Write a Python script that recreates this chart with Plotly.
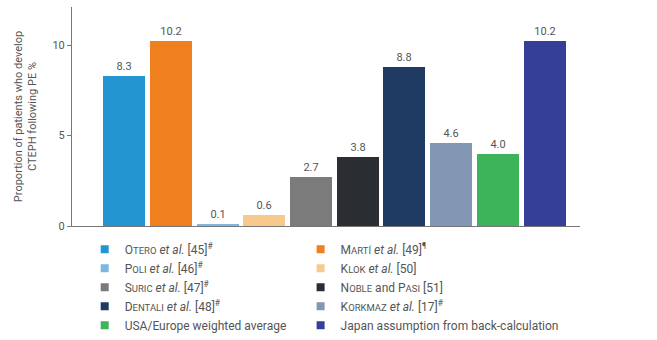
import plotly.graph_objects as go

# Studies / estimates and the proportion of PE patients developing CTEPH (%)
def sc(first, rest):
    """Render a name in small capitals."""
    return f"{first}<span style='font-size:9.5px'>{rest}</span>"

labels = [
    sc("O", "TERO") + " <i>et al.</i> [45]<sup>#</sup>",
    sc("M", "ARTÍ") + " <i>et al.</i> [49]<sup>¶</sup>",
    sc("P", "OLI") + " <i>et al.</i> [46]<sup>#</sup>",
    sc("K", "LOK") + " <i>et al.</i> [50]",
    sc("S", "URIC") + " <i>et al.</i> [47]<sup>#</sup>",
    sc("N", "OBLE") + " and " + sc("P", "ASI") + " [51]",
    sc("D", "ENTALI") + " <i>et al.</i> [48]<sup>#</sup>",
    sc("K", "ORKMAZ") + " <i>et al.</i> [17]<sup>#</sup>",
    "USA/Europe weighted average",
    "Japan assumption from back-calculation",
]
values = [8.3, 10.2, 0.1, 0.6, 2.7, 3.8, 8.8, 4.6, 4.0, 10.2]
colors = ["#2396d2", "#f07f1e", "#7fb7de", "#f8c98c", "#7b7b7b",
          "#2a2d31", "#1f3b63", "#8197b4", "#3db45a", "#363f97"]
y_ticks = [0, 5, 10]

TEXT = "#555555"
FONT = "Roboto"

fig = go.Figure()
positions = list(range(len(values)))
for i, (lab, v, c) in enumerate(zip(labels, values, colors)):
    fig.add_trace(go.Bar(
        x=[positions[i]], y=[v], width=0.9,
        marker=dict(color=c, line=dict(width=0)),
        text=[f"{v:.1f}"], textposition="outside",
        textfont=dict(size=11, color=TEXT, family=FONT),
        cliponaxis=False, showlegend=False, hoverinfo="skip",
    ))
# legend entries with small square swatches, split into two columns
for i, (lab, c) in enumerate(zip(labels, colors)):
    fig.add_trace(go.Scatter(
        x=[None], y=[None], mode="markers", name=lab,
        marker=dict(symbol="square", size=8, color=c),
        legend="legend" if i % 2 == 0 else "legend2",
    ))

legend_style = dict(orientation="v", xanchor="left", y=-0.04, yanchor="top",
                    font=dict(size=12, color=TEXT, family=FONT),
                    itemsizing="trace", tracegroupgap=0,
                    bgcolor="rgba(0,0,0,0)")

fig.update_layout(
    width=657, height=340,
    margin=dict(l=72, r=77, t=7, b=114, autoexpand=False),
    paper_bgcolor="white", plot_bgcolor="white",
    barmode="overlay",
    font=dict(family=FONT, color=TEXT, size=11),
    xaxis=dict(range=[-1.12, 9.76], showticklabels=False, ticks="",
               showgrid=False, zeroline=False, showline=True,
               linecolor="#777777", linewidth=1),
    yaxis=dict(range=[0, 12.1], tickvals=y_ticks, ticks="outside",
               ticklen=4, tickcolor="#777777", showgrid=False,
               zeroline=False, showline=True, linecolor="#777777",
               linewidth=1, tickfont=dict(size=11, color=TEXT),
               title=dict(text="Proportion of patients who develop<br>CTEPH following PE %",
                          font=dict(size=11, color=TEXT), standoff=13)),
    legend=dict(x=0.025, **legend_style),
    legend2=dict(x=0.45, **legend_style),
    bargap=0,
)

fig.write_html("out.html")
